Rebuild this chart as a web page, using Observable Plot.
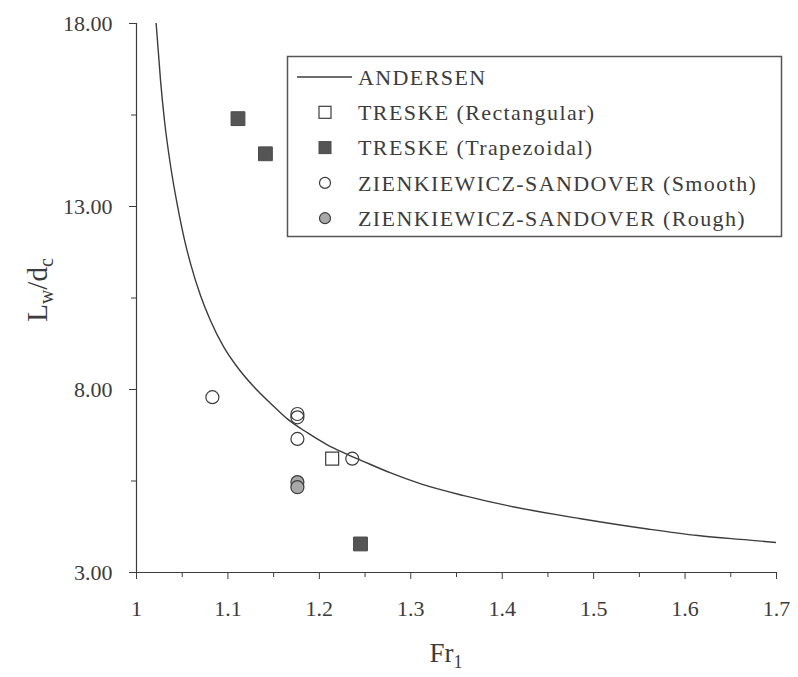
<!DOCTYPE html>
<html><head><meta charset="utf-8">
<script src="https://cdn.jsdelivr.net/npm/d3@7"></script>
<script src="https://cdn.jsdelivr.net/npm/@observablehq/plot@0.6"></script>
<style>body{margin:0;background:#fff;} #chart{width:798px;height:677px;}</style>
</head><body><div id="chart"></div>
<script>
// ANDERSEN curve
const andersenFr = [1.0208, 1.0263, 1.0306, 1.0372, 1.0449, 1.0525, 1.0591, 1.0701, 1.0810, 1.0952, 1.1106, 1.1281, 1.1500, 1.1653, 1.1868, 1.2087, 1.2269, 1.2488, 1.278, 1.311, 1.358, 1.413, 1.486, 1.559, 1.614, 1.668, 1.700];
const andersenL  = [18.22, 16.44, 15.35, 14.12, 13.01, 12.09, 11.44, 10.56, 9.88, 9.17, 8.60, 8.08, 7.54, 7.19, 6.82, 6.49, 6.27, 6.03, 5.72, 5.42, 5.10, 4.79, 4.47, 4.19, 4.01, 3.89, 3.82];
// TRESKE (Rectangular)
const rectFr = [1.214];
const rectL  = [6.11];
// TRESKE (Trapezoidal)
const trapFr = [1.111, 1.141, 1.245];
const trapL  = [15.40, 14.44, 3.78];
// ZIENKIEWICZ-SANDOVER (Smooth)
const smoothFr = [1.083, 1.176, 1.176, 1.176, 1.236];
const smoothL  = [7.79, 7.33, 7.24, 6.65, 6.11];
// ZIENKIEWICZ-SANDOVER (Rough)
const roughFr = [1.176, 1.176];
const roughL  = [5.47, 5.33];
// axes
const yTicks = [3, 8, 13, 18];
const yMinor = [5.5, 10.5, 15.5];
const xTicks = [1, 1.1, 1.2, 1.3, 1.4, 1.5, 1.6, 1.7];
const xMinor = [1.05, 1.15, 1.25, 1.35, 1.45, 1.55, 1.65];
const legendLabels = ["ANDERSEN", "TRESKE (Rectangular)", "TRESKE (Trapezoidal)", "ZIENKIEWICZ-SANDOVER (Smooth)", "ZIENKIEWICZ-SANDOVER (Rough)"];

const toRows = (xs, ys) => xs.map((x, i) => ({x, y: ys[i]}));
const ink = "#3c3c3c";
const font = "'Liberation Serif', 'DejaVu Serif', serif";

const plot = Plot.plot({
  width: 798, height: 677,
  marginLeft: 136, marginRight: 22, marginTop: 23, marginBottom: 105,
  style: {fontFamily: font, background: "#fff", color: ink},
  x: {domain: [1, 1.7]},
  y: {domain: [3, 18]},
  marks: [
    Plot.axisY({ticks: yTicks, tickSize: 7, tickPadding: 17, tickFormat: d => d.toFixed(2), fontSize: 22, label: null, stroke: ink, fill: ink}),
    Plot.axisY({ticks: yMinor, tickSize: 5, tickFormat: () => "", label: null, stroke: ink}),
    Plot.axisX({ticks: xTicks, tickSize: 7, tickPadding: 21, tickFormat: d => String(d), fontSize: 22, label: null, stroke: ink, fill: ink}),
    Plot.axisX({ticks: xMinor, tickSize: 5, tickFormat: () => "", label: null, stroke: ink}),
    Plot.ruleX([1], {stroke: ink, strokeWidth: 1.2}),
    Plot.ruleY([3], {stroke: ink, strokeWidth: 1.2}),
    Plot.line(toRows(andersenFr, andersenL), {x: "x", y: "y", curve: "monotone-x", stroke: ink, strokeWidth: 1.4, clip: true}),
    Plot.dot(toRows(smoothFr, smoothL), {x: "x", y: "y", r: 6.5, stroke: ink, fill: "none", strokeWidth: 1.2}),
    Plot.dot(toRows(roughFr, roughL), {x: "x", y: "y", r: 6.5, stroke: ink, fill: "#a8a8a8", strokeWidth: 1.2}),
    Plot.dot(toRows(rectFr, rectL), {x: "x", y: "y", symbol: "square", r: 7.3, stroke: ink, fill: "white", strokeWidth: 1.2}),
    Plot.dot(toRows(trapFr, trapL), {x: "x", y: "y", symbol: "square", r: 7.8, stroke: "#4a4a4a", fill: "#555", strokeWidth: 1})
  ]
});
document.getElementById("chart").appendChild(plot);

const svg = d3.select(plot);
// Axis titles
const yt = svg.append("text")
  .attr("transform", "translate(47,290) rotate(-90)")
  .attr("text-anchor", "middle")
  .attr("fill", ink).style("font-family", font).style("font-size", "29px");
yt.append("tspan").text("L");
yt.append("tspan").attr("dy", 6).style("font-size", "20px").text("w");
yt.append("tspan").attr("dy", -6).text("/d");
yt.append("tspan").attr("dy", 6).style("font-size", "20px").text("c");

const xt = svg.append("text")
  .attr("transform", "translate(446,662)")
  .attr("text-anchor", "middle")
  .attr("fill", ink).style("font-family", font).style("font-size", "27px");
xt.append("tspan").text("Fr");
xt.append("tspan").attr("dy", 6).style("font-size", "18px").text("1");

// Legend
const lg = svg.append("g").attr("text-anchor", "start").style("font-family", font).style("font-size", "22px").style("letter-spacing", "1.4px");
lg.append("rect").attr("x", 287.5).attr("y", 56.5).attr("width", 494).attr("height", 180)
  .attr("fill", "white").attr("stroke", "#555").attr("stroke-width", 1.5);
const rowY = i => 77 + i * 35.3;
legendLabels.forEach((t, i) => {
  lg.append("text").attr("x", 358).attr("y", rowY(i)).attr("dy", "0.35em").attr("text-anchor", "start").attr("fill", ink).text(t);
});
lg.append("line").attr("x1", 297).attr("x2", 352).attr("y1", rowY(0)).attr("y2", rowY(0)).attr("stroke", ink).attr("stroke-width", 1.4);
lg.append("rect").attr("x", 319).attr("y", rowY(1) - 6).attr("width", 12).attr("height", 12).attr("fill", "white").attr("stroke", ink).attr("stroke-width", 1.2);
lg.append("rect").attr("x", 319).attr("y", rowY(2) - 6).attr("width", 12).attr("height", 12).attr("fill", "#555").attr("stroke", "#4a4a4a");
lg.append("circle").attr("cx", 325).attr("cy", rowY(3)).attr("r", 5.5).attr("fill", "none").attr("stroke", ink).attr("stroke-width", 1.2);
lg.append("circle").attr("cx", 325).attr("cy", rowY(4)).attr("r", 5.5).attr("fill", "#a8a8a8").attr("stroke", ink).attr("stroke-width", 1.2);
</script>
</body></html>
